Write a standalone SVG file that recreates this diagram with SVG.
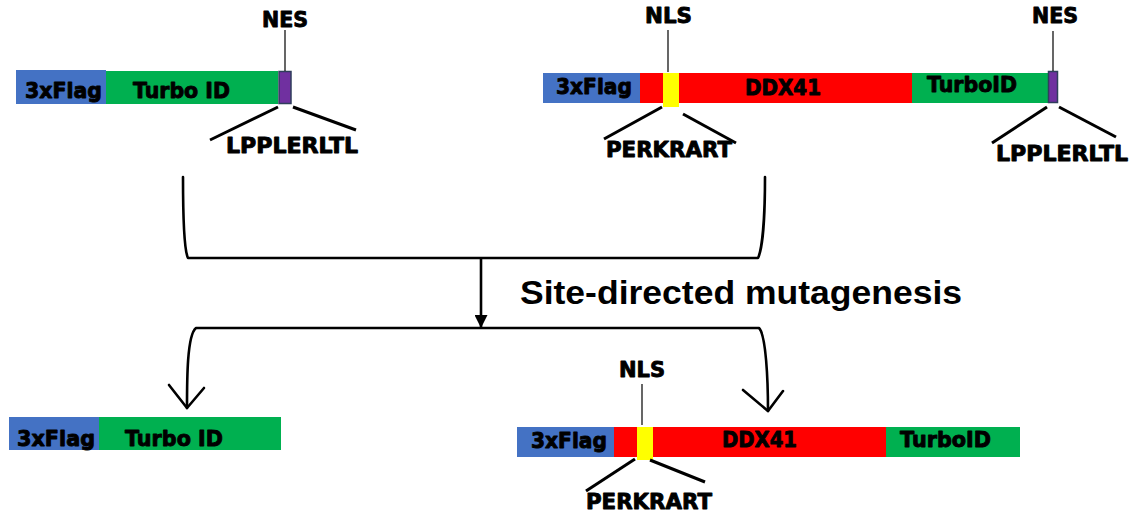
<svg xmlns="http://www.w3.org/2000/svg" width="1130" height="512" viewBox="0 0 1130 512">
<style>
.lb{font-family:"DejaVu Sans","Liberation Sans",sans-serif;font-weight:bold;font-size:21px;fill:#000;stroke:#000;stroke-width:0.9;stroke-linejoin:round}
.big{font-family:"Liberation Sans",Arial,sans-serif;font-weight:bold;font-size:33px;fill:#000}
.blue{fill:#4472C4}.green{fill:#00B050}.red{fill:#FF0000}.yellow{fill:#FFFF00}
.nes{fill:#7030A0;stroke:#2F3E5C;stroke-width:1.5}
.thin{stroke:#000;stroke-width:1.2;fill:none}
.leg{stroke:#000;stroke-width:3;fill:none}
.con{stroke:#000;stroke-width:2.6;fill:none;stroke-linecap:round;stroke-linejoin:round}
</style>
<defs>
<marker id="tri" viewBox="0 0 10 10" refX="10" refY="5" markerWidth="5" markerHeight="5" orient="auto" markerUnits="strokeWidth">
<path d="M0,0 L10,5 L0,10 Z" fill="#000"/>
</marker>
</defs>

<g id="construct-top-left">
<rect class="blue" x="16" y="70" width="90" height="34"/>
<rect class="green" x="106" y="71" width="172" height="33"/>
<rect class="nes" x="279" y="71.5" width="12" height="32"/>
<text class="lb" x="25" y="98" textLength="77" lengthAdjust="spacingAndGlyphs">3xFlag</text>
<text class="lb" x="133" y="98" textLength="97" lengthAdjust="spacingAndGlyphs">Turbo ID</text>
<line class="thin" x1="285" y1="30" x2="285" y2="71"/>
<text class="lb" x="262" y="27" textLength="46" lengthAdjust="spacingAndGlyphs">NES</text>
<line class="leg" x1="278" y1="107" x2="210" y2="140"/>
<line class="leg" x1="293" y1="107" x2="356" y2="130"/>
<text class="lb" x="226" y="153" textLength="132" lengthAdjust="spacingAndGlyphs">LPPLERLTL</text>
</g>

<g id="construct-top-right">
<rect class="blue" x="543" y="73" width="97" height="30"/>
<rect class="red" x="640" y="73" width="272" height="30"/>
<rect class="green" x="912" y="73" width="136" height="30"/>
<rect class="yellow" x="663" y="73" width="16" height="34"/>
<rect class="nes" x="1048.5" y="71.5" width="9" height="31"/>
<text class="lb" x="556" y="94" textLength="76" lengthAdjust="spacingAndGlyphs">3xFlag</text>
<text class="lb" x="745" y="95" textLength="76" lengthAdjust="spacingAndGlyphs">DDX41</text>
<text class="lb" x="927" y="92" textLength="90" lengthAdjust="spacingAndGlyphs">TurboID</text>
<line class="thin" x1="668" y1="30" x2="668" y2="72"/>
<text class="lb" x="645" y="23" textLength="47" lengthAdjust="spacingAndGlyphs">NLS</text>
<line class="leg" x1="662" y1="107" x2="604" y2="139"/>
<line class="leg" x1="683" y1="114" x2="736" y2="143"/>
<text class="lb" x="606" y="157" textLength="126" lengthAdjust="spacingAndGlyphs">PERKRART</text>
<line class="thin" x1="1053" y1="31" x2="1053" y2="71"/>
<text class="lb" x="1032" y="23" textLength="46" lengthAdjust="spacingAndGlyphs">NES</text>
<line class="leg" x1="1047" y1="107" x2="992" y2="143"/>
<line class="leg" x1="1059" y1="107" x2="1116" y2="137"/>
<text class="lb" x="996" y="161" textLength="132" lengthAdjust="spacingAndGlyphs">LPPLERLTL</text>
</g>

<g id="construct-bottom-left">
<rect class="blue" x="9" y="417" width="90" height="33"/>
<rect class="green" x="99" y="417" width="182" height="33"/>
<text class="lb" x="17" y="446" textLength="78" lengthAdjust="spacingAndGlyphs">3xFlag</text>
<text class="lb" x="125" y="446" textLength="98" lengthAdjust="spacingAndGlyphs">Turbo ID</text>
</g>

<g id="construct-bottom-right">
<rect class="blue" x="517" y="427" width="97" height="30"/>
<rect class="red" x="614" y="427" width="272" height="30"/>
<rect class="green" x="886" y="427" width="134" height="30"/>
<rect class="yellow" x="637" y="427" width="16" height="33"/>
<text class="lb" x="531" y="448" textLength="76" lengthAdjust="spacingAndGlyphs">3xFlag</text>
<text class="lb" x="722" y="447" textLength="75" lengthAdjust="spacingAndGlyphs">DDX41</text>
<text class="lb" x="900" y="447" textLength="91" lengthAdjust="spacingAndGlyphs">TurboID</text>
<line class="thin" x1="642" y1="384" x2="642" y2="425"/>
<text class="lb" x="619" y="377" textLength="46" lengthAdjust="spacingAndGlyphs">NLS</text>
<line class="leg" x1="635" y1="459" x2="586" y2="491"/>
<line class="leg" x1="650" y1="460" x2="705" y2="482"/>
<text class="lb" x="586" y="509" textLength="126" lengthAdjust="spacingAndGlyphs">PERKRART</text>
</g>

<g id="connectors">
<path class="con" d="M183,177 C183,220 184,250 188,258 L758,258 C762,250 765,220 765,177"/>
<line x1="481" y1="258" x2="481" y2="328" stroke="#000" stroke-width="2.6" marker-end="url(#tri)"/>
<path class="con" d="M187,408 C187,380 187,335 196,328 L759,328 C766,335 768,380 768,411"/>
<polyline class="con" points="169,385 187,408 204,388"/>
<polyline class="con" points="743,390 768,411 783,391"/>
</g>

<text class="big" x="520" y="304" textLength="442" lengthAdjust="spacingAndGlyphs">Site-directed mutagenesis</text>
</svg>
